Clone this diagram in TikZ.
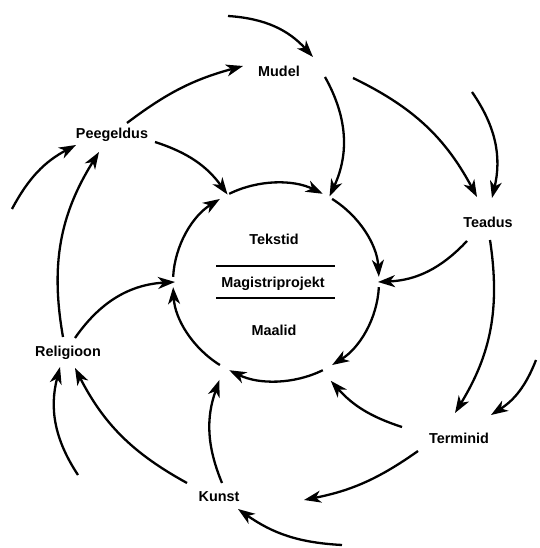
\documentclass[tikz,border=0pt]{standalone}
\usepackage{fontspec}
\setmainfont{Liberation Sans}
\usetikzlibrary{arrows.meta}
\begin{document}
\begin{tikzpicture}[x=1pt,y=1pt,
  lbl/.style={font=\bfseries\fontsize{14.4}{17}\selectfont, anchor=base, inner sep=0pt},
  conn/.style={line width=2.3pt, -{Stealth[length=17pt,width=12pt,inset=5pt]}},
  bar/.style={line width=2.3pt},
]
\useasboundingbox (0,0) rectangle (539,548);
% centre
\node[circle, minimum size=202pt, inner sep=0pt] (c) at (276,266) {};
\node[lbl] (tek) at (274,303) {Tekstid};
\node[lbl] (mag) at (273,260) {Magistriprojekt};
\node[lbl] (maa) at (274,212) {Maalid};
\draw[bar] (216,282) -- (335,282);
\draw[bar] (216,250) -- (335,250);
% outer labels
\node[lbl] (mudel) at (279,471) {Mudel};
\node[lbl] (teadus) at (488,320) {Teadus};
\node[lbl] (terminid) at (459,104) {Terminid};
\node[lbl] (kunst) at (219,46) {Kunst};
\node[lbl] (religioon) at (68,191) {Religioon};
\node[lbl] (peegeldus) at (112,409) {Peegeldus};
% free ends
\coordinate (inA) at (228,532);
\coordinate (inB) at (472,456);
\coordinate (inC) at (536,188);
\coordinate (inD) at (342,3);
\coordinate (inE) at (78,73);
\coordinate (inF) at (12,339);
% circle arcs
\foreach \a/\b in {117/63, 57/3, -3/-57, -63/-117, -123/-177, 177/123}{
  \draw[conn] ([shift={(\a:103 and 99)}]c.center) arc[start angle=\a, end angle=\b, x radius=103, y radius=99];
}
% outer connectors
\draw[conn] (inA) to[bend left=22] ([shift={(34,20)}]mudel.base);
\draw[conn] ([shift={(15,16)}]peegeldus.base) to[bend left=11] ([shift={(-36,11)}]mudel.base);
\draw[conn] ([shift={(46,0)}]mudel.base) to[bend left=27] ([shift={(58:101)}]c.center);
\draw[conn] ([shift={(74,-1)}]mudel.base) to[bend left=18] ([shift={(-11,31)}]teadus.base);
\draw[conn] (inB) to[bend left=24] ([shift={(4,30)}]teadus.base);
\draw[conn] ([shift={(-21,-13)}]teadus.base) to[bend left=22] ([shift={(0:102)}]c.center);
\draw[conn] ([shift={(2,-12)}]teadus.base) to[bend left=20] ([shift={(-4,31)}]terminid.base);
\draw[conn] (inC) to[bend left=18] ([shift={(32,29)}]terminid.base);
\draw[conn] ([shift={(-57,17)}]terminid.base) to[bend left=15] ([shift={(-61:113)}]c.center);
\draw[conn] ([shift={(-41,-7)}]terminid.base) to[bend left=12] ([shift={(85,2)}]kunst.base);
\draw[conn] (inD) to[bend left=16] ([shift={(19,-7)}]kunst.base);
\draw[conn] ([shift={(3,19)}]kunst.base) to[bend left=21] ([shift={(-120:113)}]c.center);
\draw[conn] ([shift={(-32,19)}]kunst.base) to[bend left=17] ([shift={(7,-11)}]religioon.base);
\draw[conn] (inE) to[bend left=24] ([shift={(-8,-10)}]religioon.base);
\draw[conn] ([shift={(7,19)}]religioon.base) to[bend left=26] ([shift={(180:101)}]c.center);
\draw[conn] ([shift={(-5,20)}]religioon.base) to[bend left=21] ([shift={(-13,-13)}]peegeldus.base);
\draw[conn] (inF) to[bend left=17] ([shift={(-36,-6)}]peegeldus.base);
\draw[conn] ([shift={(43,-3)}]peegeldus.base) to[bend left=18] ([shift={(119:100)}]c.center);
\end{tikzpicture}
\end{document}
